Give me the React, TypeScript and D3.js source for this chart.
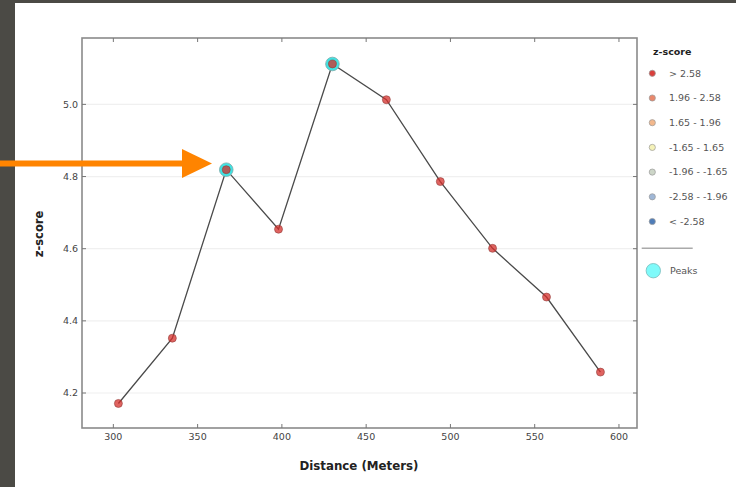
import React from "react";
import * as d3 from "d3";

// distance along the transect (m) and the z-score at each sample
const distances = [303, 335, 367, 398, 430, 462, 494, 525, 557, 589];
const zScores = [4.171, 4.352, 4.819, 4.654, 5.112, 5.013, 4.786, 4.601, 4.466, 4.258];
const peakDistances = [367, 430];

const xTicks = [300, 350, 400, 450, 500, 550, 600];
const yTicks = [4.2, 4.4, 4.6, 4.8, 5.0];

const legendLabels = ["> 2.58", "1.96 - 2.58", "1.65 - 1.96", "-1.65 - 1.65", "-1.96 - -1.65", "-2.58 - -1.96", "< -2.58"];
const legendColors = ["#d9403c", "#e9886c", "#f3b88c", "#f5f2b8", "#cdd6c8", "#9fb7d6", "#4f7db8"];

const W = 736;
const H = 487;
const plot = { left: 82, right: 637, top: 38, bottom: 428 };
const font = "'DejaVu Sans', sans-serif";

export default function App() {
  const x = d3.scaleLinear().domain([281.4, 610.7]).range([plot.left, plot.right]);
  const y = d3.scaleLinear().domain([4.103, 5.184]).range([plot.bottom, plot.top]);

  const pts = distances.map((d, i) => ({ d, z: zScores[i] }));
  const line = d3
    .line<{ d: number; z: number }>()
    .x((p) => x(p.d))
    .y((p) => y(p.z));
  const peaks = pts.filter((p) => peakDistances.includes(p.d));

  const tick = 4;
  const legendY = d3.scaleLinear().domain([0, 1]).range([73.3, 98]);

  return (
    <svg
      width={W}
      height={H}
      style={{ position: "absolute", left: 0, top: 0, display: "block", background: "#fff" }}
    >
      {/* dark frame strips of the screenshot */}
      <rect x={0} y={0} width={W} height={3} fill="#4b4a45" />
      <rect x={0} y={0} width={15} height={H} fill="#4b4a45" />

      {/* grid */}
      {yTicks.map((t) => (
        <line key={"g" + t} x1={plot.left} x2={plot.right} y1={y(t)} y2={y(t)} stroke="#f0f0f0" strokeWidth={1.2} />
      ))}

      {/* frame */}
      <rect
        x={plot.left}
        y={plot.top}
        width={plot.right - plot.left}
        height={plot.bottom - plot.top}
        fill="none"
        stroke="#8a8a8a"
        strokeWidth={1.6}
      />

      {/* x ticks */}
      {xTicks.map((t) => (
        <g key={"x" + t}>
          <line x1={x(t)} x2={x(t)} y1={plot.bottom} y2={plot.bottom - tick} stroke="#777" />
          <line x1={x(t)} x2={x(t)} y1={plot.top} y2={plot.top + tick} stroke="#777" />
          <text x={x(t)} y={440} textAnchor="middle" fontFamily={font} fontSize={9.5} fill="#444">
            {t}
          </text>
        </g>
      ))}

      {/* y ticks */}
      {yTicks.map((t) => (
        <g key={"y" + t}>
          <line x1={plot.left} x2={plot.left + tick} y1={y(t)} y2={y(t)} stroke="#777" />
          <line x1={plot.right} x2={plot.right - tick} y1={y(t)} y2={y(t)} stroke="#777" />
          <text x={78} y={y(t) + 3.3} textAnchor="end" fontFamily={font} fontSize={9.5} fill="#444">
            {t.toFixed(1)}
          </text>
        </g>
      ))}

      {/* axis titles */}
      <text x={359} y={470} textAnchor="middle" fontFamily={font} fontWeight="bold" fontSize={11.8} fill="#222">
        Distance (Meters)
      </text>
      <text
        transform={`translate(43,${234}) rotate(-90)`}
        textAnchor="middle"
        fontFamily={font}
        fontWeight="bold"
        fontSize={11.5}
        fill="#222"
      >
        z-score
      </text>

      {/* series line */}
      <path d={line(pts) ?? ""} fill="none" stroke="#4a4a4a" strokeWidth={1.3} />

      {/* peak rings */}
      {peaks.map((p) => (
        <circle key={"p" + p.d} cx={x(p.d)} cy={y(p.z)} r={6.8} fill="#3fe3e3" stroke="#7aa" strokeWidth={0.8} />
      ))}

      {/* points */}
      {pts.map((p) => (
        <circle
          key={"c" + p.d}
          cx={x(p.d)}
          cy={y(p.z)}
          r={4}
          fill="#d62f2b"
          fillOpacity={0.75}
          stroke="#8a3a36"
          strokeOpacity={0.7}
          strokeWidth={0.8}
        />
      ))}

      {/* orange arrow */}
      <rect x={0} y={160.5} width={184} height={6} fill="#ff8400" />
      <path d="M182,149 L212,163.5 L182,178 Z" fill="#ff8400" />

      {/* legend */}
      <text x={653} y={55} fontFamily={font} fontWeight="bold" fontSize={9.5} fill="#222">
        z-score
      </text>
      {legendLabels.map((lab, i) => (
        <g key={lab}>
          <circle cx={652.3} cy={legendY(i)} r={3.1} fill={legendColors[i]} stroke="#999" strokeWidth={0.7} />
          <text x={669} y={legendY(i) + 3.3} fontFamily={font} fontSize={9.5} fill="#555">
            {lab}
          </text>
        </g>
      ))}
      <line x1={641.7} x2={692.7} y1={248.3} y2={248.3} stroke="#aaa" strokeWidth={1.5} />
      <circle cx={653.3} cy={270.7} r={7.2} fill="#7ffafa" stroke="#7bb" strokeWidth={0.8} />
      <text x={670} y={274} fontFamily={font} fontSize={9.5} fill="#555">
        Peaks
      </text>
    </svg>
  );
}
